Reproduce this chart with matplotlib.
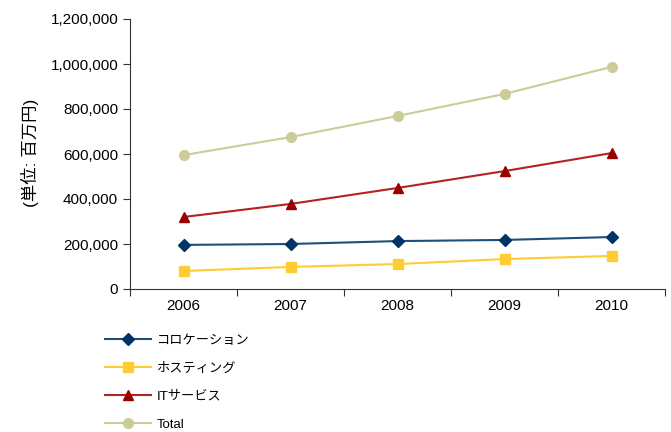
import matplotlib.pyplot as plt
import numpy as np

plt.rcParams['font.family'] = ['Liberation Sans', 'Noto Sans CJK JP', 'DejaVu Sans']

years = ['2006', '2007', '2008', '2009', '2010']
colocation = [196000, 200000, 213000, 218000, 231000]
hosting = [80000, 98000, 111000, 133000, 147000]
it_services = [320000, 378000, 449000, 524000, 604000]
total = [595000, 675000, 769000, 867000, 987000]

fig = plt.figure(figsize=(6.71, 4.32), dpi=100)
ax = fig.add_axes([130/671, 1 - 289/432, 535/671, 270/432])

x = np.arange(len(years)) + 0.5
ax.plot(x, colocation, color='#1F4E79', marker='D', markersize=6.5, mfc='#003366', mec='#003366', lw=1.5, label='コロケーション')
ax.plot(x, hosting, color='#FFCC33', marker='s', markersize=7, mfc='#FFCC33', mec='#FFCC33', lw=1.5, label='ホスティング')
ax.plot(x, it_services, color='#B22222', marker='^', markersize=7.5, mfc='#990000', mec='#990000', lw=1.5, label='ITサービス')
ax.plot(x, total, color='#CCCC99', marker='o', markersize=7, mfc='#CCCC99', mec='#CCCC99', lw=1.5, label='Total')

ax.set_xlim(0, 5)
ax.set_ylim(0, 1200000)
ax.set_yticks(np.arange(0, 1200001, 200000))
ax.set_yticklabels([f'{v:,}' for v in range(0, 1200001, 200000)], fontsize=11)
ax.set_xticks(np.arange(0, 6))
ax.set_xticklabels([])
ax.set_xticks(x, minor=True)
ax.set_xticklabels(years, minor=True, fontsize=11)
ax.tick_params(axis='x', which='minor', length=0, pad=7)
ax.tick_params(axis='both', which='major', length=5, direction='out', color='#333333')
ax.spines['top'].set_visible(False)
ax.spines['right'].set_visible(False)
ax.spines['left'].set_color('#333333')
ax.spines['bottom'].set_color('#333333')

fig.text(30/671, 1 - 153/432, '(単位: 百万円)', rotation=90, ha='center', va='center', fontsize=12.5)

fig.legend(loc='upper left', bbox_to_anchor=(100/671, 1 - 329/432), frameon=False,
           fontsize=9.5, handlelength=3.5, labelspacing=1.2, handletextpad=0.4, borderaxespad=0)

fig.savefig('out.png', dpi=100)
